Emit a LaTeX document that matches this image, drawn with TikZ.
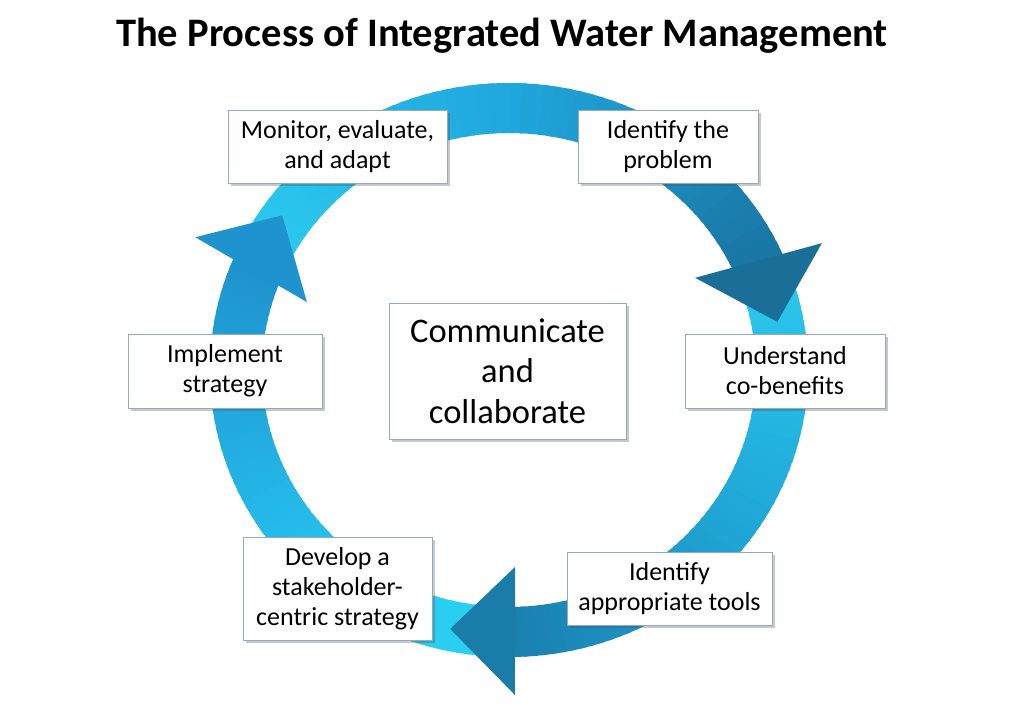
\documentclass[tikz,border=0pt]{standalone}
\usepackage{fontspec}
\setmainfont{Carlito}
\usetikzlibrary{shadows}
\definecolor{boxline}{HTML}{94A8C8}
\definecolor{aOneA}{HTML}{2BCAEF}
\definecolor{aOneB}{HTML}{1FA6DC}
\definecolor{aOneC}{HTML}{1A76A4}
\definecolor{aTwoA}{HTML}{2BC8EE}
\definecolor{aTwoB}{HTML}{1FA6D6}
\definecolor{aTwoC}{HTML}{1A80B0}
\definecolor{aThrA}{HTML}{2AD3F3}
\definecolor{aThrB}{HTML}{24B8E8}
\definecolor{aThrC}{HTML}{1F93CE}
\definecolor{headOne}{HTML}{1A6F99}
\definecolor{headTwo}{HTML}{197CA9}
\definecolor{headThr}{HTML}{1F93CE}
\def\rin{237}
\def\rout{287}
% gradient arc body: start angle, end angle, colour start, colour mid, colour end
\newcommand\ArcGradBody[5]{%
  \foreach \i in {0,...,59}{%
    \pgfmathsetmacro\aa{#1+(#2-#1)*\i/60}%
    \pgfmathsetmacro\bb{#1+(#2-#1)*(\i+1.5)/60}%
    \ifnum\i<30
      \pgfmathtruncatemacro\pp{100*\i/30}%
      \colorlet{segc}{#4!\pp!#3}%
    \else
      \pgfmathtruncatemacro\pp{100*(\i-30)/29}%
      \colorlet{segc}{#5!\pp!#4}%
    \fi
    \fill[segc] (\aa:\rin) arc[start angle=\aa, end angle=\bb, radius=\rin]
      -- (\bb:\rout) arc[start angle=\bb, end angle=\aa, radius=\rout] -- cycle;
  }%
}
\tikzset{
  stepbox/.style={draw=boxline, line width=0.9pt, fill=white, align=center,
    inner sep=0pt, font=\fontsize{26}{30}\selectfont,
    drop shadow={shadow xshift=3pt, shadow yshift=-3pt, opacity=0.3, fill=black!70}},
  centerbox/.style={stepbox, font=\fontsize{34.5}{40.5}\selectfont},
  titletext/.style={font=\fontsize{40.5}{46}\selectfont\bfseries, inner sep=0pt}
}
\begin{document}
\begin{tikzpicture}[x=1pt,y=-1pt]
\useasboundingbox[fill=white] (0,0) rectangle (1024,717);

\node[titletext] (title) at (502,36) {The Process of Integrated Water Management};

% ring of three arrows
\begin{scope}[shift={(509,370)}, xscale=1.042, yscale=-1]
  \ArcGradBody{155}{24.5}{aOneA}{aOneB}{aOneC}
  \ArcGradBody{21}{-90}{aTwoA}{aTwoB}{aTwoC}
  \ArcGradBody{-92}{-202.5}{aThrA}{aThrB}{aThrC}
  \fill[headOne] (27.3:201) -- (22.9:326) -- (10.6:262) -- cycle;
  \fill[headTwo] (-88.3:197) -- (-89:325) -- (-102.3:265) -- cycle;
  \fill[headThr] (160.7:205.5) -- (156.2:329) -- (144.6:267) -- cycle;
\end{scope}

\node[stepbox, minimum width=219pt, minimum height=73pt] (mon) at (337.5,146.5) {Monitor, evaluate,\\and adapt};
\node[stepbox, minimum width=180pt, minimum height=73pt] (idp) at (668,146.5) {Identify the\\problem};
\node[stepbox, minimum width=200pt, minimum height=74pt] (und) at (785,371) {Understand\\co-benefits};
\node[stepbox, minimum width=205pt, minimum height=73pt] (tools) at (669.5,588.5) {Identify\\appropriate tools};
\node[stepbox, minimum width=189pt, minimum height=103pt] (dev) at (337.5,588.5) {Develop a\\stakeholder-\\centric strategy};
\node[stepbox, minimum width=194pt, minimum height=74pt] (imp) at (225,371) {Implement\\strategy};
\node[centerbox, minimum width=237pt, minimum height=136pt] (ctr) at (507.5,371) {Communicate\\and\\collaborate};
\end{tikzpicture}
\end{document}
